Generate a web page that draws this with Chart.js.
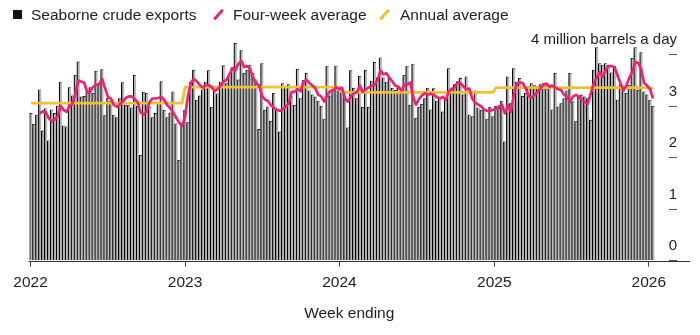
<!DOCTYPE html>
<html>
<head>
<meta charset="utf-8">
<script src="https://cdn.jsdelivr.net/npm/chart.js@4.4.1/dist/chart.umd.min.js"></script>
<style>
  body { margin: 0; background: #fff; }
  #wrap { position: relative; width: 700px; height: 335px; font-family: "Liberation Sans", Arial, sans-serif; color: #222; }
  #chart { position: absolute; left: 0; top: 0; }
  .lg { position: absolute; top: 7px; font-size: 15.5px; line-height: 15.5px; white-space: nowrap; }
  .sq { position: absolute; left: 13px; top: 10px; width: 9px; height: 9px; background: #111; }
  .sl { position: absolute; top: 8px; width: 2.8px; height: 13px; border-radius: 1px; transform: rotate(42deg); }
</style>
</head>
<body>
<div id="wrap">
  <canvas id="chart" width="700" height="335"></canvas>
  <div class="sq"></div>
  <div class="lg" style="left:31px">Seaborne crude exports</div>
  <div class="sl" style="left:217px;background:#eb2379"></div>
  <div class="lg" style="left:233px">Four-week average</div>
  <div class="sl" style="left:383px;background:#f6bf32"></div>
  <div class="lg" style="left:400px">Annual average</div>
</div>
<script>
// weekly values, million barrels a day, first week ending 2 Jan 2022
const firstWeekEnding = [2022, 0, 2];
const seaborneExports = [
  2.86, 2.65, 2.83, 3.32, 2.52, 2.95, 2.33, 2.93, 2.86, 3.00,
  3.47, 2.62, 2.60, 3.36, 3.20, 3.60, 3.86, 3.18, 3.19, 3.29,
  3.36, 3.25, 3.68, 3.42, 3.71, 2.82, 3.16, 3.10, 2.83, 2.78,
  3.15, 3.46, 3.02, 3.01, 2.97, 3.60, 3.00, 2.05, 3.27, 3.25,
  2.98, 2.78, 2.86, 3.08, 3.48, 2.92, 2.78, 2.87, 3.28, 2.66,
  1.95, 2.63, 2.92, 2.68, 3.47, 3.70, 3.12, 3.20, 3.32, 3.47,
  3.69, 2.98, 3.30, 3.24, 3.47, 3.79, 3.44, 3.57, 3.75, 4.22,
  3.51, 4.08, 3.64, 3.70, 3.80, 3.64, 3.51, 2.55, 3.83, 2.92,
  2.99, 2.71, 3.25, 2.94, 2.50, 3.44, 3.36, 3.42, 3.18, 3.02,
  3.72, 3.15, 3.50, 3.64, 3.30, 3.22, 3.18, 3.10, 3.00, 2.75,
  3.78, 3.20, 3.33, 3.78, 3.30, 3.27, 3.20, 2.58, 3.69, 3.35,
  3.15, 3.58, 2.98, 3.70, 2.98, 3.49, 3.85, 3.55, 3.94, 3.55,
  3.47, 3.55, 3.35, 3.31, 3.35, 3.25, 3.60, 3.78, 3.02, 3.82,
  2.77, 2.98, 3.04, 3.15, 3.35, 2.93, 3.34, 3.10, 3.17, 2.89,
  3.12, 3.73, 3.33, 3.42, 3.48, 3.54, 3.22, 3.57, 2.83, 2.80,
  3.30, 2.97, 2.92, 2.95, 2.75, 2.98, 2.80, 3.00, 2.96, 3.10,
  2.31, 3.57, 3.05, 3.73, 3.47, 3.54, 3.19, 3.25, 3.38, 3.44,
  3.40, 3.38, 3.42, 3.44, 3.40, 3.38, 2.93, 3.64, 2.99, 3.05,
  3.15, 3.30, 3.64, 3.09, 2.70, 3.18, 3.22, 3.18, 3.15, 2.73,
  3.70, 4.14, 3.83, 3.80, 3.83, 3.80, 3.65, 3.77, 3.12, 3.41,
  3.31, 3.25, 3.41, 3.93, 4.14, 3.31, 4.04, 3.28, 3.22, 3.12,
  3.00
];
// starts at the fourth week
const fourWeekAverage = [
                    2.86, 2.90, 2.88, 2.77, 2.70, 2.74, 2.80,
  3.00, 2.93, 2.89, 3.00, 3.05, 3.25, 3.50, 3.48, 3.45, 3.27,
  3.28, 3.38, 3.41, 3.43, 3.53, 3.35, 3.18, 3.15, 3.02, 2.99,
  3.04, 3.09, 3.16, 3.19, 3.19, 3.14, 3.08, 2.88, 2.84, 2.89,
  3.08, 3.15, 3.15, 3.16, 3.18, 3.12, 3.02, 2.96, 2.88, 2.78,
  2.68, 2.62, 2.78, 3.20, 3.46, 3.53, 3.48, 3.41, 3.36, 3.41,
  3.41, 3.37, 3.30, 3.33, 3.40, 3.48, 3.51, 3.62, 3.74, 3.70,
  3.82, 3.88, 3.76, 3.78, 3.72, 3.55, 3.45, 3.40, 3.20, 3.13,
  3.10, 3.02, 2.97, 2.93, 2.91, 2.94, 2.99, 3.05, 3.28, 3.28,
  3.33, 3.29, 3.48, 3.51, 3.45, 3.40, 3.35, 3.22, 3.19, 3.09,
  3.21, 3.29, 3.31, 3.37, 3.33, 3.36, 3.15, 3.09, 3.19, 3.25,
  3.27, 3.40, 3.28, 3.33, 3.36, 3.40, 3.41, 3.51, 3.69, 3.62,
  3.64, 3.55, 3.48, 3.40, 3.38, 3.31, 3.41, 3.42, 3.46, 3.19,
  3.03, 3.14, 3.21, 3.25, 3.23, 3.24, 3.22, 3.18, 3.15, 3.18,
  3.12, 3.28, 3.34, 3.36, 3.46, 3.45, 3.38, 3.33, 3.34, 3.14,
  3.07, 3.03, 3.00, 2.93, 2.91, 2.91, 2.93, 2.95, 2.99, 3.03,
  2.86, 3.02, 2.89, 3.22, 3.44, 3.46, 3.45, 3.35, 3.20, 3.16,
  3.22, 3.27, 3.35, 3.42, 3.44, 3.38, 3.40, 3.36, 3.33, 3.31,
  3.22, 3.18, 3.09, 3.19, 3.22, 3.19, 3.12, 3.08, 3.05, 3.25,
  3.45, 3.55, 3.66, 3.57, 3.70, 3.78, 3.78, 3.76, 3.60, 3.45,
  3.31, 3.40, 3.55, 3.66, 3.85, 3.84, 3.72, 3.45, 3.40, 3.33,
  3.15
];
const annualYears = [2022, 2023, 2024, 2025, 2026];
const annualAverage = [3.06, 3.37, 3.27, 3.36, 3.35];
const tickYears = [2022, 2023, 2024, 2025, 2026];
const yTicks = [0, 1, 2, 3, 4];
const yTickLabels = ['0', '1', '2', '3', '4 million barrels a day'];

const WEEK = 7 * 86400000;
const start = Date.UTC(...firstWeekEnding);
const weekYear = i => new Date(start + i * WEEK).getUTCFullYear();
// 1 January of a year, in weeks from the first bar
const yearPos = y => (Date.UTC(y, 0, 1) - start) / WEEK;

const barPoints = seaborneExports.map((v, i) => ({ x: i, y: v }));
const avgOffset = seaborneExports.length - fourWeekAverage.length;
const avgPoints = fourWeekAverage.map((v, i) => ({ x: i + avgOffset, y: v }));
const annualPoints = seaborneExports.map((_, i) => ({
  x: i,
  y: annualAverage[annualYears.indexOf(weekYear(i))]
}));

const FONT = '"Liberation Sans", Arial, sans-serif';
Chart.defaults.font.family = FONT;
Chart.defaults.color = '#222';

// baseline past the last bar, and the value labels above the right-hand ticks
const axisExtras = {
  id: 'axisExtras',
  afterDatasetsDraw(chart) {
    const { ctx, chartArea, scales: { y } } = chart;
    const base = Math.round(y.getPixelForValue(0)) + 0.5;
    ctx.save();
    ctx.strokeStyle = '#333';
    ctx.lineWidth = 1;
    ctx.beginPath();
    ctx.moveTo(chartArea.left - 1, base);
    ctx.lineTo(690, base);
    ctx.stroke();
    ctx.fillStyle = '#222';
    ctx.font = '15px ' + FONT;
    ctx.textAlign = 'right';
    ctx.textBaseline = 'middle';
    yTicks.forEach((v, i) => {
      ctx.fillText(yTickLabels[i], y.right, y.getPixelForValue(v) - 14.5);
    });
    ctx.restore();
  }
};

new Chart(document.getElementById('chart'), {
  type: 'bar',
  plugins: [axisExtras],
  data: {
    datasets: [
      {
        type: 'line',
        label: 'Four-week average',
        data: avgPoints,
        borderColor: '#eb2379',
        borderWidth: 2.7,
        pointRadius: 0,
        tension: 0,
        borderJoinStyle: 'round',
        order: 0
      },
      {
        type: 'line',
        label: 'Annual average',
        data: annualPoints,
        borderColor: '#f6bf32',
        borderWidth: 2.7,
        pointRadius: 0,
        tension: 0,
        order: 1
      },
      {
        label: 'Seaborne crude exports',
        data: barPoints,
        backgroundColor: '#b8b8b8',
        borderColor: '#000',
        borderWidth: { left: 1.2, right: 0, top: 0.6, bottom: 0 },
        borderSkipped: false,
        barPercentage: 1,
        categoryPercentage: 1,
        order: 2
      }
    ]
  },
  options: {
    responsive: false,
    devicePixelRatio: 1,
    animation: false,
    layout: { padding: { left: 29.5, right: 23, top: 34.1, bottom: 0 } },
    plugins: { legend: { display: false }, tooltip: { enabled: false } },
    scales: {
      x: {
        type: 'linear',
        min: -0.5,
        max: 215.4,
        offset: false,
        afterBuildTicks: s => { s.ticks = tickYears.map(y => ({ value: yearPos(y) })); },
        afterFit: s => { s.height = 74.3; },
        grid: { drawOnChartArea: false, drawTicks: true, tickLength: 6, color: '#444', offset: false },
        border: { display: false },
        ticks: {
          autoSkip: false,
          maxRotation: 0,
          padding: 7,
          font: { size: 15.5 },
          color: '#222',
          callback: (v, i) => String(tickYears[i])
        },
        title: {
          display: true,
          text: 'Week ending',
          font: { size: 15.5 },
          color: '#222',
          padding: { top: 0, bottom: 12 }
        }
      },
      y: {
        position: 'right',
        min: 0,
        max: 4.4,
        afterBuildTicks: s => { s.ticks = yTicks.map(v => ({ value: v })); },
        grid: { drawOnChartArea: false, drawTicks: true, tickLength: 8, color: '#555' },
        border: { display: false },
        ticks: { display: false }
      }
    }
  }
});
</script>
</body>
</html>
